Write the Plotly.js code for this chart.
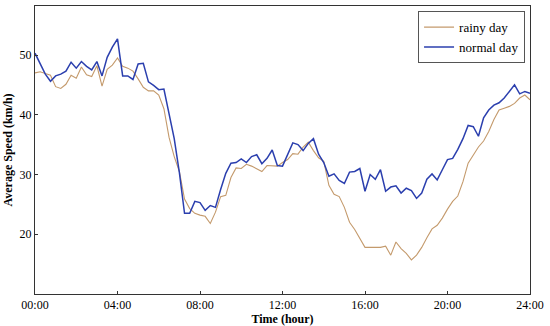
<!DOCTYPE html>
<html>
<head>
<meta charset="utf-8">
<script src="https://cdn.plot.ly/plotly-3.0.1.min.js"></script>
<style>html,body{margin:0;padding:0;background:#fff;}#chart{width:550px;height:326px;}</style>
</head>
<body>
<div id="chart"></div>
<script>
// Time in hours (15-minute steps)
const hours = [];
for (let i = 0; i <= 96; i++) hours.push(i / 4);

const tickVals = [0, 4, 8, 12, 16, 20, 24];
const tickLabels = ["00:00", "04:00", "08:00", "12:00", "16:00", "20:00", "24:00"];

const rainyDay = [
  47.0, 47.2, 46.9, 46.6, 44.7, 44.4, 45.1, 46.6, 46.1, 48.0, 46.7, 46.4,
  48.2, 44.8, 47.6, 48.3, 49.5, 48.1, 47.8, 47.3, 46.0, 44.6, 44.0, 44.0,
  43.3, 41.0, 36.2, 33.0, 30.5, 25.9, 24.3, 23.5, 23.2, 23.0, 21.8, 23.7,
  26.3, 26.5, 29.5, 31.1, 31.0, 31.7, 31.4, 31.0, 30.5, 31.5, 31.5, 31.4,
  32.0, 32.5, 33.5, 33.4, 34.6, 35.4, 34.0, 32.8, 32.2, 28.2, 26.7, 26.3,
  24.5, 22.0, 20.8, 19.4, 17.8, 17.8, 17.8, 17.8, 18.0, 16.5, 18.7, 17.6,
  16.8, 15.7, 16.5, 17.8, 19.4, 20.9, 21.5, 22.7, 24.2, 25.5, 26.4, 28.8,
  31.9, 33.2, 34.6, 35.6, 37.2, 39.2, 40.8, 41.1, 41.4, 41.9, 42.8, 43.3,
  42.5
];

const normalDay = [
  50.3, 48.6, 46.8, 45.6, 46.5, 46.8, 47.3, 48.8, 47.8, 48.9, 48.1, 47.5,
  48.9, 46.5, 49.6, 51.3, 52.7, 46.5, 46.5, 45.9, 48.5, 48.6, 45.5, 44.9,
  44.2, 44.3, 40.0, 36.0, 30.3, 23.5, 23.5, 25.5, 25.3, 24.0, 24.8, 24.5,
  27.5, 30.2, 31.9, 32.0, 32.6, 32.0, 33.0, 33.3, 31.8, 32.7, 34.1, 31.5,
  31.4, 33.4, 35.3, 35.0, 34.0, 35.2, 36.0, 33.4, 32.0, 29.7, 30.1, 29.0,
  28.5, 30.4, 30.5, 31.0, 27.2, 30.0, 29.2, 30.8, 27.2, 27.9, 28.1, 26.9,
  27.7, 27.3, 26.0, 26.9, 29.2, 30.1, 29.1, 30.8, 32.5, 32.7, 34.2, 36.0,
  38.2, 38.0, 36.4, 39.5, 40.8, 41.6, 42.0, 42.8, 44.0, 45.0, 43.5, 43.9,
  43.6
];

const font = "Liberation Serif, Times New Roman, serif";

const traces = [
  {x: hours, y: rainyDay, type: "scatter", mode: "lines", name: "rainy day",
   line: {color: "#c49a6c", width: 1.1}},
  {x: hours, y: normalDay, type: "scatter", mode: "lines", name: "normal day",
   line: {color: "#2b3fae", width: 1.5}}
];

const layout = {
  width: 550, height: 326,
  margin: {l: 35, r: 20, t: 6, b: 32},
  paper_bgcolor: "#fff", plot_bgcolor: "#fff",
  font: {family: font, size: 12, color: "#000"},
  showlegend: true,
  legend: {x: 0.99, y: 0.982, xanchor: "right", yanchor: "top",
           bordercolor: "#555", borderwidth: 1, bgcolor: "#fff",
           font: {family: font, size: 13, color: "#000"}, tracegroupgap: 0},
  xaxis: {range: [0, 24], tickvals: tickVals, ticktext: tickLabels,
          showgrid: false, zeroline: false, showline: true, mirror: true,
          linecolor: "#333", linewidth: 1, ticks: "inside", ticklen: 3,
          tickcolor: "#333", tickfont: {family: font, size: 12, color: "#000"},
          title: {text: "<b>Time (hour)</b>", standoff: 1,
                  font: {family: font, size: 12, color: "#000"}}},
  yaxis: {range: [10, 58.2], tickvals: [20, 30, 40, 50],
          showgrid: false, zeroline: false, showline: true, mirror: true,
          linecolor: "#333", linewidth: 1, ticks: "inside", ticklen: 3,
          tickcolor: "#333", tickfont: {family: font, size: 12, color: "#000"},
          title: {text: "<b>Average Speed (km/h)</b>", standoff: 4,
                  font: {family: font, size: 12, color: "#000"}}}
};

Plotly.newPlot("chart", traces, layout, {displayModeBar: false, staticPlot: true});
</script>
</body>
</html>
